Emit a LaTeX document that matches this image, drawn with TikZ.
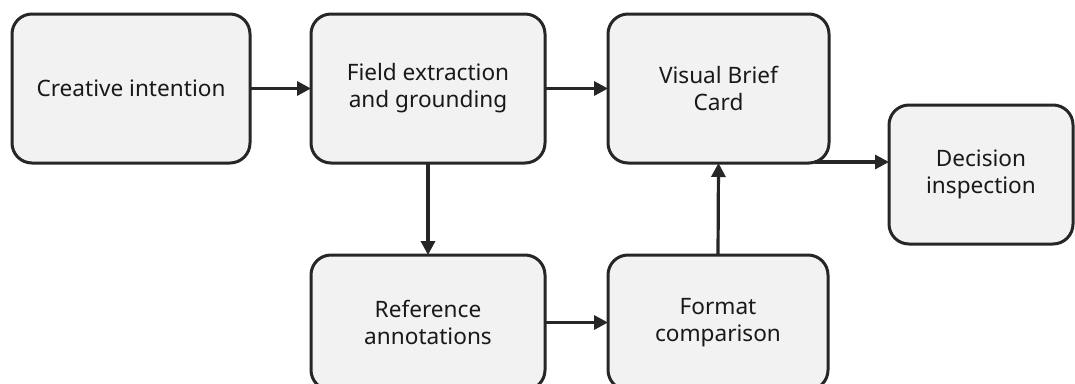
\documentclass[tikz,border=0pt]{standalone}
\usepackage{fontspec}
\setmainfont{Noto Sans}
\usetikzlibrary{arrows.meta,calc}
\begin{document}
\begin{tikzpicture}[x=1pt,y=-1pt,
  card/.style={draw=black!85, line width=3pt, fill=black!5, rounded corners=20pt,
    inner sep=0pt, outer sep=0pt, align=center,
    font=\fontsize{22.6}{27}\selectfont, text=black!90},
  twoline/.style={execute at begin node={\rule{0pt}{23pt}}},
  flow/.style={draw=black!85, line width=3.2pt,
    -{Triangle[length=14pt,width=14pt]}}]
\useasboundingbox[fill=white] (0,0) rectangle (1075,383);
\node[card, minimum width=238pt, minimum height=149pt] (b1) at (131,88.5) {Creative intention};
\node[card, twoline, minimum width=234pt, minimum height=149pt] (b2) at (428,88.5) {Field extraction\\and grounding};
\node[card, twoline, minimum width=221pt, minimum height=149pt] (b3) at (718.5,88.5) {Visual Brief\\Card};
\node[card, twoline, minimum width=184pt, minimum height=139pt] (b4) at (981,174.5) {Decision\\inspection};
\node[card, twoline, minimum width=234pt, minimum height=135pt] (b5) at (428,322.5) {Reference\\annotations};
\node[card, twoline, minimum width=220pt, minimum height=135pt] (b6) at (718,322.5) {Format\\comparison};
\draw[flow] (b1.east) -- (b2.west);
\draw[flow] (b2.east) -- (b3.west);
\draw[flow] (b2.south) -- (b5.north);
\draw[flow] (b5.east) -- (b6.west);
\draw[flow] (b6.north) -- (b3.south);
\coordinate (c3) at ($(b3.south east)+(-14,-1)$);
\draw[flow] (c3) -- (c3 -| b4.west);
\end{tikzpicture}
\end{document}
